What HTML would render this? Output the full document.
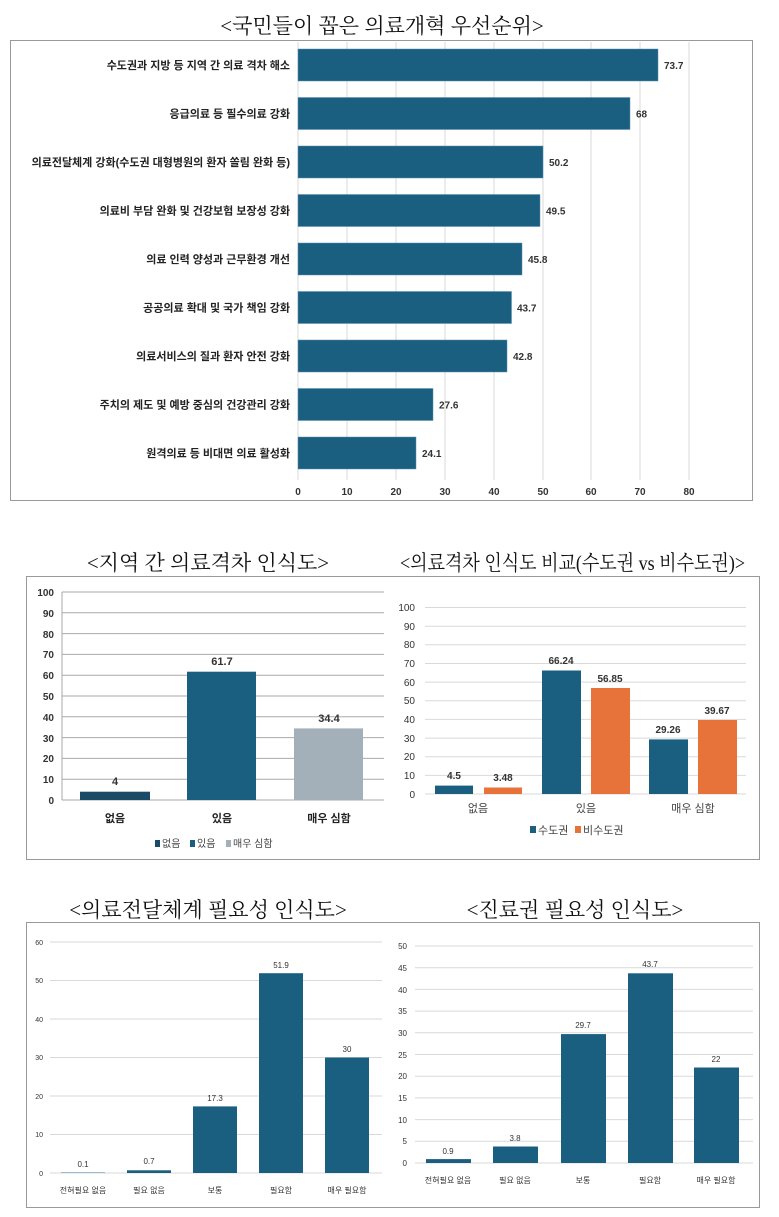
<!DOCTYPE html>
<html><head><meta charset="utf-8"><style>
body{margin:0;background:#fff}
svg{display:block}
text{font-family:"Liberation Sans","Noto Sans CJK KR",sans-serif}
.t{font-family:"Liberation Serif","Noto Serif CJK SC",serif;font-size:21px;fill:#111}
.lab{font-size:11px;fill:#222;font-weight:bold}
.v{font-size:10px;fill:#333;font-weight:bold}
.tk{font-size:10px;fill:#333;font-weight:bold}
.g{stroke:#d9d9d9;stroke-width:1}
.s{font-size:8px;fill:#333}
</style></head><body>
<svg width="779" height="1217" viewBox="0 0 779 1217" xmlns="http://www.w3.org/2000/svg">
<rect width="779" height="1217" fill="#fff"/>
<!-- Chart 1 -->
<text class="t" x="382" y="33" text-anchor="middle">&lt;국민들이 꼽은 의료개혁 우선순위&gt;</text>
<rect x="10.5" y="40.5" width="742" height="460" fill="none" stroke="#999"/>
<g class="g">
<line x1="298" y1="42" x2="298" y2="480"/><line x1="347" y1="42" x2="347" y2="480"/><line x1="396" y1="42" x2="396" y2="480"/><line x1="445" y1="42" x2="445" y2="480"/><line x1="494" y1="42" x2="494" y2="480"/><line x1="543" y1="42" x2="543" y2="480"/><line x1="591" y1="42" x2="591" y2="480"/><line x1="640" y1="42" x2="640" y2="480"/><line x1="689" y1="42" x2="689" y2="480"/>
</g>
<g fill="#1a5e80" stroke="#5a8fb0" stroke-width="0.5">
<rect x="298" y="49" width="360" height="32"/>
<rect x="298" y="97.5" width="332" height="32"/>
<rect x="298" y="146" width="245" height="32"/>
<rect x="298" y="194.5" width="242" height="32"/>
<rect x="298" y="243" width="224" height="32"/>
<rect x="298" y="291.5" width="213.5" height="32"/>
<rect x="298" y="340" width="209" height="32"/>
<rect x="298" y="388.5" width="135" height="32"/>
<rect x="298" y="437" width="118" height="32"/>
</g>
<g class="lab" text-anchor="end">
<text x="290" y="69">수도권과 지방 등 지역 간 의료 격차 해소</text>
<text x="290" y="117.5">응급의료 등 필수의료 강화</text>
<text x="290" y="166">의료전달체계 강화(수도권 대형병원의 환자 쏠림 완화 등)</text>
<text x="290" y="214.5">의료비 부담 완화 및 건강보험 보장성 강화</text>
<text x="290" y="263">의료 인력 양성과 근무환경 개선</text>
<text x="290" y="311.5">공공의료 확대 및 국가 책임 강화</text>
<text x="290" y="360">의료서비스의 질과 환자 안전 강화</text>
<text x="290" y="408.5">주치의 제도 및 예방 중심의 건강관리 강화</text>
<text x="290" y="457">원격의료 등 비대면 의료 활성화</text>
</g>
<g class="v">
<text x="664" y="69">73.7</text><text x="636" y="117.5">68</text><text x="549" y="166">50.2</text><text x="546" y="214.5">49.5</text><text x="528" y="263">45.8</text><text x="517" y="311.5">43.7</text><text x="513" y="360">42.8</text><text x="439" y="408.5">27.6</text><text x="422" y="457">24.1</text>
</g>
<g class="tk" text-anchor="middle">
<text x="298" y="495">0</text><text x="347" y="495">10</text><text x="396" y="495">20</text><text x="445" y="495">30</text><text x="494" y="495">40</text><text x="543" y="495">50</text><text x="591" y="495">60</text><text x="640" y="495">70</text><text x="689" y="495">80</text>
</g>

<!-- Middle -->
<text class="t" x="208" y="570" text-anchor="middle">&lt;지역 간 의료격차 인식도&gt;</text>
<text class="t" x="400" y="570" textLength="345" lengthAdjust="spacingAndGlyphs">&lt;의료격차 인식도 비교(수도권 vs 비수도권)&gt;</text>
<rect x="26.5" y="576.5" width="733" height="283" fill="none" stroke="#999"/>
<g stroke="#aaa" stroke-width="1">
<line x1="62" y1="592" x2="384" y2="592"/><line x1="62" y1="612.8" x2="384" y2="612.8"/><line x1="62" y1="633.6" x2="384" y2="633.6"/><line x1="62" y1="654.4" x2="384" y2="654.4"/><line x1="62" y1="675.2" x2="384" y2="675.2"/><line x1="62" y1="696" x2="384" y2="696"/><line x1="62" y1="716.8" x2="384" y2="716.8"/><line x1="62" y1="737.6" x2="384" y2="737.6"/><line x1="62" y1="758.4" x2="384" y2="758.4"/><line x1="62" y1="779.2" x2="384" y2="779.2"/><line x1="62" y1="800" x2="384" y2="800"/><line x1="62" y1="592" x2="62" y2="800"/>
</g>
<rect x="80" y="791.7" width="70" height="8.3" fill="#1a4a66"/>
<rect x="187" y="671.7" width="69" height="128.3" fill="#1a5e80"/>
<rect x="294" y="728.4" width="69" height="71.6" fill="#a3b0ba"/>
<g class="tk" text-anchor="end">
<text x="54" y="596">100</text><text x="54" y="617">90</text><text x="54" y="638">80</text><text x="54" y="658">70</text><text x="54" y="679">60</text><text x="54" y="700">50</text><text x="54" y="721">40</text><text x="54" y="742">30</text><text x="54" y="762">20</text><text x="54" y="783">10</text><text x="54" y="804">0</text>
</g>
<g class="v" text-anchor="middle" style="font-size:11px">
<text x="115" y="785">4</text><text x="222" y="665">61.7</text><text x="329" y="722">34.4</text>
</g>
<g class="lab" text-anchor="middle">
<text x="115" y="822">없음</text><text x="222" y="822">있음</text><text x="329" y="822">매우 심함</text>
</g>
<rect x="155" y="840" width="5" height="7" fill="#1a4a66"/><text x="162" y="847" style="font-size:10px;fill:#444">없음</text>
<rect x="190" y="840" width="5" height="7" fill="#1a5e80"/><text x="197" y="847" style="font-size:10px;fill:#444">있음</text>
<rect x="226" y="840" width="5" height="7" fill="#a3b0ba"/><text x="233" y="847" style="font-size:10px;fill:#444">매우 심함</text>

<g class="g">
<line x1="425" y1="607.5" x2="746" y2="607.5"/><line x1="425" y1="626.2" x2="746" y2="626.2"/><line x1="425" y1="644.8" x2="746" y2="644.8"/><line x1="425" y1="663.5" x2="746" y2="663.5"/><line x1="425" y1="682.1" x2="746" y2="682.1"/><line x1="425" y1="700.8" x2="746" y2="700.8"/><line x1="425" y1="719.4" x2="746" y2="719.4"/><line x1="425" y1="738.1" x2="746" y2="738.1"/><line x1="425" y1="756.7" x2="746" y2="756.7"/><line x1="425" y1="775.4" x2="746" y2="775.4"/><line x1="425" y1="794" x2="746" y2="794"/>
</g>
<g class="tk" text-anchor="end" style="font-weight:normal;font-size:10px">
<text x="415" y="611">100</text><text x="415" y="630">90</text><text x="415" y="648">80</text><text x="415" y="667">70</text><text x="415" y="686">60</text><text x="415" y="704">50</text><text x="415" y="723">40</text><text x="415" y="742">30</text><text x="415" y="760">20</text><text x="415" y="779">10</text><text x="415" y="798">0</text>
</g>
<g fill="#1a5e80"><rect x="435" y="785.6" width="38" height="8.4"/><rect x="542" y="670.5" width="39" height="123.5"/><rect x="649" y="739.4" width="39" height="54.6"/></g>
<g fill="#e8733a"><rect x="484" y="787.5" width="38" height="6.5"/><rect x="591" y="688" width="39" height="106"/><rect x="698" y="720" width="39" height="74"/></g>
<g class="v" text-anchor="middle">
<text x="454" y="779">4.5</text><text x="503" y="781">3.48</text><text x="561" y="664">66.24</text><text x="610" y="682">56.85</text><text x="668" y="733">29.26</text><text x="717" y="714">39.67</text>
</g>
<text x="478" y="812" text-anchor="middle" style="font-size:11px;fill:#444">없음</text><text x="586" y="812" text-anchor="middle" style="font-size:11px;fill:#444">있음</text><text x="693" y="812" text-anchor="middle" style="font-size:11px;fill:#444">매우 심함</text>
<rect x="530" y="826" width="6" height="7" fill="#1a5e80"/><text x="538" y="834" style="font-size:11px;fill:#444">수도권</text>
<rect x="575" y="826" width="6" height="7" fill="#e8733a"/><text x="583" y="834" style="font-size:11px;fill:#444">비수도권</text>

<!-- Bottom -->
<text class="t" x="208" y="917" text-anchor="middle">&lt;의료전달체계 필요성 인식도&gt;</text>
<text class="t" x="575" y="917" text-anchor="middle">&lt;진료권 필요성 인식도&gt;</text>
<rect x="26.5" y="922.5" width="733" height="285" fill="none" stroke="#999"/>
<g class="g">
<line x1="50" y1="942" x2="382" y2="942"/><line x1="50" y1="980.5" x2="382" y2="980.5"/><line x1="50" y1="1019" x2="382" y2="1019"/><line x1="50" y1="1057.5" x2="382" y2="1057.5"/><line x1="50" y1="1096" x2="382" y2="1096"/><line x1="50" y1="1134.5" x2="382" y2="1134.5"/><line x1="50" y1="1173" x2="382" y2="1173"/>
</g>
<g class="s" text-anchor="end" style="font-size:7px">
<text x="43" y="945">60</text><text x="43" y="983">50</text><text x="43" y="1022">40</text><text x="43" y="1060">30</text><text x="43" y="1099">20</text><text x="43" y="1137">10</text><text x="43" y="1176">0</text>
</g>
<g fill="#1a5e80"><rect x="61" y="1172.6" width="44" height="0.4"/><rect x="127" y="1170.3" width="44" height="2.7"/><rect x="193" y="1106.4" width="44" height="66.6"/><rect x="259" y="973.2" width="44" height="199.8"/><rect x="325" y="1057.5" width="44" height="115.5"/></g>
<g class="s" text-anchor="middle">
<text x="83" y="1167">0.1</text><text x="149" y="1164">0.7</text><text x="215" y="1101">17.3</text><text x="281" y="968">51.9</text><text x="347" y="1052">30</text>
<text x="83" y="1193">전혀필요 없음</text><text x="149" y="1193">필요 없음</text><text x="215" y="1193">보통</text><text x="281" y="1193">필요함</text><text x="347" y="1193">매우 필요함</text>
</g>
<g class="g">
<line x1="415" y1="946" x2="753" y2="946"/><line x1="415" y1="967.7" x2="753" y2="967.7"/><line x1="415" y1="989.4" x2="753" y2="989.4"/><line x1="415" y1="1011.1" x2="753" y2="1011.1"/><line x1="415" y1="1032.8" x2="753" y2="1032.8"/><line x1="415" y1="1054.5" x2="753" y2="1054.5"/><line x1="415" y1="1076.2" x2="753" y2="1076.2"/><line x1="415" y1="1097.9" x2="753" y2="1097.9"/><line x1="415" y1="1119.6" x2="753" y2="1119.6"/><line x1="415" y1="1141.3" x2="753" y2="1141.3"/><line x1="415" y1="1163" x2="753" y2="1163"/>
</g>
<g class="s" text-anchor="end">
<text x="407" y="949">50</text><text x="407" y="971">45</text><text x="407" y="993">40</text><text x="407" y="1014">35</text><text x="407" y="1036">30</text><text x="407" y="1058">25</text><text x="407" y="1079">20</text><text x="407" y="1101">15</text><text x="407" y="1123">10</text><text x="407" y="1144">5</text><text x="407" y="1166">0</text>
</g>
<g fill="#1a5e80"><rect x="426" y="1159.1" width="45" height="3.9"/><rect x="493" y="1146.5" width="45" height="16.5"/><rect x="561" y="1034.1" width="45" height="128.9"/><rect x="628" y="973.3" width="45" height="189.7"/><rect x="694" y="1067.5" width="45" height="95.5"/></g>
<g class="s" text-anchor="middle">
<text x="448" y="1154">0.9</text><text x="515" y="1141">3.8</text><text x="583" y="1028">29.7</text><text x="650" y="967">43.7</text><text x="716" y="1062">22</text>
<text x="448" y="1183">전혀필요 없음</text><text x="515" y="1183">필요 없음</text><text x="583" y="1183">보통</text><text x="650" y="1183">필요함</text><text x="716" y="1183">매우 필요함</text>
</g>
</svg>
</body></html>
